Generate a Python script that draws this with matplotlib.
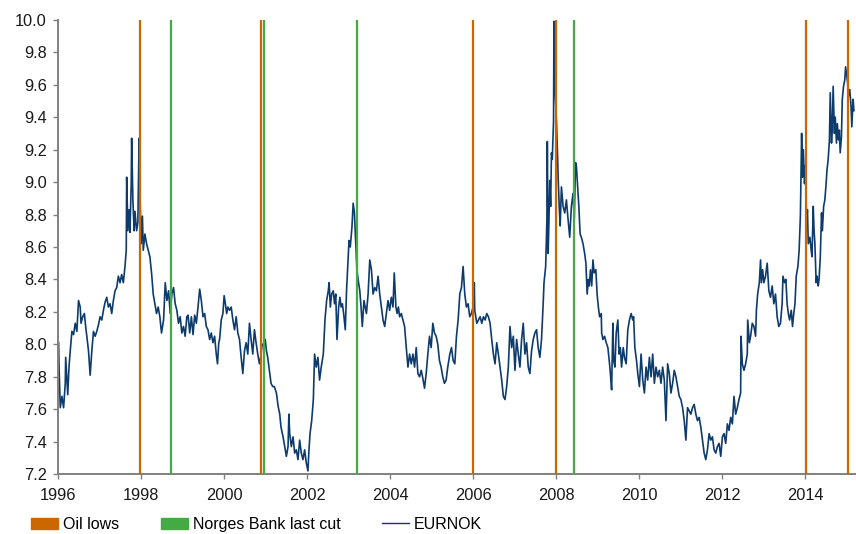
import matplotlib.pyplot as plt
from matplotlib.patches import Patch
from matplotlib.lines import Line2D

plt.rcParams['font.family'] = ['Liberation Sans', 'DejaVu Sans']

# EURNOK (decimal year, rate)
years = [
    1996.01, 1996.02, 1996.05, 1996.09, 1996.13, 1996.17, 1996.18, 1996.23, 1996.26, 1996.29,
    1996.33, 1996.37, 1996.41, 1996.45, 1996.49, 1996.53, 1996.55, 1996.59, 1996.63, 1996.67,
    1996.69, 1996.73, 1996.77, 1996.81, 1996.85, 1996.89, 1996.93, 1996.97, 1997.01, 1997.05,
    1997.09, 1997.13, 1997.17, 1997.21, 1997.25, 1997.29, 1997.33, 1997.37, 1997.41, 1997.45,
    1997.49, 1997.53, 1997.57, 1997.61, 1997.64, 1997.65, 1997.68, 1997.71, 1997.73, 1997.76,
    1997.77, 1997.80, 1997.83, 1997.85, 1997.89, 1997.92, 1997.95, 1997.97, 1998.00, 1998.03,
    1998.05, 1998.09, 1998.13, 1998.17, 1998.21, 1998.25, 1998.29, 1998.33, 1998.37, 1998.41,
    1998.45, 1998.49, 1998.54, 1998.58, 1998.62, 1998.66, 1998.70, 1998.74, 1998.78, 1998.82,
    1998.86, 1998.90, 1998.94, 1998.98, 1999.02, 1999.06, 1999.10, 1999.13,
    1999.17, 1999.21, 1999.25, 1999.29, 1999.33, 1999.37, 1999.41, 1999.45, 1999.49, 1999.53,
    1999.57, 1999.61, 1999.65, 1999.69, 1999.73, 1999.77, 1999.81, 1999.84, 1999.87, 1999.89,
    1999.93, 1999.97, 2000.00, 2000.03, 2000.06, 2000.09, 2000.13, 2000.17, 2000.21, 2000.25,
    2000.29, 2000.33, 2000.37, 2000.41, 2000.45, 2000.49, 2000.53, 2000.57, 2000.61, 2000.65,
    2000.69, 2000.73, 2000.77, 2000.81, 2000.85, 2000.88, 2000.91, 2000.96, 2000.99, 2001.02,
    2001.05, 2001.09, 2001.13, 2001.17, 2001.21, 2001.26, 2001.30, 2001.34, 2001.37, 2001.42,
    2001.46, 2001.50, 2001.54, 2001.56, 2001.58, 2001.62, 2001.66, 2001.70, 2001.74, 2001.78,
    2001.82, 2001.86, 2001.90, 2001.94, 2001.98, 2002.02, 2002.04, 2002.07, 2002.11, 2002.15,
    2002.18, 2002.22, 2002.26, 2002.30, 2002.34,
    2002.39, 2002.43, 2002.47, 2002.51, 2002.53, 2002.56, 2002.59, 2002.63, 2002.66, 2002.69,
    2002.72, 2002.76, 2002.79, 2002.82, 2002.85, 2002.88, 2002.92, 2002.95, 2002.98, 2003.01,
    2003.04, 2003.08, 2003.11, 2003.14, 2003.17, 2003.20, 2003.24, 2003.27, 2003.30, 2003.33,
    2003.37, 2003.40, 2003.43, 2003.47, 2003.51, 2003.55, 2003.59, 2003.63, 2003.67, 2003.71,
    2003.75, 2003.79, 2003.83, 2003.87, 2003.91, 2003.95, 2003.99, 2004.03, 2004.07, 2004.10,
    2004.14, 2004.17, 2004.20, 2004.23, 2004.27, 2004.31, 2004.35, 2004.39, 2004.43, 2004.47,
    2004.51, 2004.55, 2004.59, 2004.63, 2004.67, 2004.71, 2004.75, 2004.79, 2004.83, 2004.87,
    2004.91, 2004.95, 2004.99, 2005.03, 2005.07, 2005.11, 2005.15, 2005.19, 2005.23, 2005.27,
    2005.31, 2005.35, 2005.39, 2005.44, 2005.48, 2005.52,
    2005.56, 2005.60, 2005.64, 2005.68, 2005.72, 2005.76, 2005.80, 2005.84, 2005.88, 2005.92,
    2005.96, 2006.00, 2006.03, 2006.04, 2006.09, 2006.13, 2006.17, 2006.21, 2006.25, 2006.29,
    2006.33, 2006.37, 2006.41, 2006.45, 2006.49, 2006.53, 2006.57, 2006.61, 2006.65, 2006.69,
    2006.73, 2006.77, 2006.81, 2006.85, 2006.89, 2006.93, 2006.97, 2007.01, 2007.05, 2007.09,
    2007.13, 2007.17, 2007.21, 2007.25, 2007.29, 2007.33, 2007.37, 2007.41, 2007.45, 2007.49,
    2007.53, 2007.57, 2007.61, 2007.65, 2007.69, 2007.71, 2007.75, 2007.78, 2007.79, 2007.81,
    2007.83, 2007.85, 2007.87, 2007.89, 2007.91, 2007.94, 2007.95, 2007.97, 2007.99, 2008.01,
    2008.04, 2008.05, 2008.08, 2008.10, 2008.13, 2008.17, 2008.21, 2008.25, 2008.29, 2008.33,
    2008.37, 2008.41, 2008.44, 2008.47, 2008.49, 2008.52, 2008.55, 2008.58, 2008.61, 2008.65,
    2008.69,
    2008.72, 2008.75, 2008.78, 2008.80, 2008.83, 2008.86, 2008.89, 2008.92, 2008.96, 2008.99,
    2009.02, 2009.05, 2009.09, 2009.10, 2009.13, 2009.17, 2009.21, 2009.25, 2009.29, 2009.31,
    2009.34, 2009.37, 2009.39, 2009.42, 2009.45, 2009.49, 2009.52, 2009.55, 2009.58, 2009.62,
    2009.65, 2009.69, 2009.73, 2009.77, 2009.81, 2009.85, 2009.87, 2009.90, 2009.94, 2009.97,
    2010.01, 2010.05, 2010.09, 2010.13, 2010.17, 2010.21, 2010.25, 2010.29, 2010.33, 2010.37,
    2010.41, 2010.45, 2010.49, 2010.53, 2010.57, 2010.61, 2010.65, 2010.69, 2010.73, 2010.77,
    2010.81, 2010.85, 2010.89, 2010.93, 2010.97, 2011.01, 2011.05, 2011.09, 2011.13, 2011.17,
    2011.21, 2011.25, 2011.29, 2011.33, 2011.37, 2011.41, 2011.45, 2011.49, 2011.53, 2011.57,
    2011.61, 2011.65, 2011.69, 2011.73, 2011.77, 2011.81, 2011.85, 2011.89,
    2011.93, 2011.97, 2012.01, 2012.05, 2012.09, 2012.13, 2012.17, 2012.21, 2012.25, 2012.29,
    2012.33, 2012.37, 2012.41, 2012.45, 2012.46, 2012.49, 2012.53, 2012.57, 2012.61, 2012.62,
    2012.66, 2012.69, 2012.73, 2012.77, 2012.81, 2012.83, 2012.86, 2012.90, 2012.93, 2012.95,
    2012.98, 2013.01, 2013.05, 2013.09, 2013.13, 2013.17, 2013.21, 2013.25, 2013.29, 2013.33,
    2013.37, 2013.41, 2013.45, 2013.47, 2013.51, 2013.54, 2013.57, 2013.60, 2013.63, 2013.67,
    2013.70, 2013.73, 2013.76, 2013.79, 2013.83, 2013.86, 2013.89, 2013.92, 2013.94, 2013.96,
    2013.99, 2014.01, 2014.04, 2014.06, 2014.08, 2014.12, 2014.15, 2014.17, 2014.20, 2014.22,
    2014.24, 2014.27, 2014.29, 2014.32, 2014.34, 2014.37, 2014.40, 2014.42, 2014.45, 2014.48,
    2014.51, 2014.53, 2014.56, 2014.59, 2014.61, 2014.64, 2014.66, 2014.68, 2014.71, 2014.73,
    2014.76, 2014.78, 2014.81, 2014.83, 2014.85, 2014.88, 2014.90, 2014.93, 2014.96, 2014.98,
    2015.01, 2015.03, 2015.05, 2015.08, 2015.11, 2015.13, 2015.16, 2015.18,
]
eurnok = [
    8.01, 7.86, 7.61, 7.68, 7.61, 7.76, 7.92, 7.69, 7.86, 7.96,
    8.08, 8.06, 8.13, 8.08, 8.27, 8.23, 8.13, 8.17, 8.19, 8.09,
    8.05, 7.96, 7.81, 7.96, 8.08, 8.05, 8.08, 8.12, 8.17, 8.15,
    8.21, 8.26, 8.29, 8.23, 8.25, 8.19, 8.27, 8.33, 8.35, 8.42,
    8.38, 8.43, 8.38, 8.48, 8.58, 9.03, 8.70, 8.83, 8.69, 8.99,
    9.27, 8.89, 8.70, 8.82, 8.70, 8.75, 9.27, 8.95, 8.62, 8.79,
    8.58, 8.68, 8.62, 8.58, 8.54, 8.44, 8.31, 8.25, 8.19, 8.23,
    8.17, 8.07, 8.15, 8.38, 8.27, 8.33, 8.19, 8.31, 8.35, 8.25,
    8.21, 8.13, 8.17, 8.07, 8.11, 8.05, 8.17, 8.18,
    8.07, 8.17, 8.06, 8.18, 8.13, 8.23, 8.34, 8.27, 8.17, 8.19,
    8.11, 8.09, 8.03, 8.07, 8.01, 8.05, 7.94, 7.88, 8.01, 8.03,
    8.15, 8.19, 8.30, 8.25, 8.19, 8.23, 8.21, 8.23, 8.15, 8.09,
    8.17, 8.07, 8.03, 7.92, 7.82, 7.96, 8.01, 7.94, 8.13, 8.03,
    7.94, 8.09, 8.01, 7.94, 7.88, 7.92, 7.99, 8.01, 8.03, 7.96,
    7.92, 7.84, 7.76, 7.74, 7.74, 7.70, 7.62, 7.57, 7.49, 7.43,
    7.37, 7.31, 7.37, 7.57, 7.45, 7.37, 7.43, 7.33, 7.35, 7.29,
    7.41, 7.33, 7.29, 7.35, 7.27, 7.22, 7.33, 7.45, 7.53, 7.66,
    7.94, 7.86, 7.92, 7.78, 7.86,
    7.94, 8.15, 8.27, 8.33, 8.38, 8.23, 8.31, 8.33, 8.25, 8.31,
    8.03, 8.23, 8.29, 8.23, 8.25, 8.19, 8.09, 8.33, 8.48, 8.64,
    8.60, 8.72, 8.87, 8.81, 8.64, 8.46, 8.38, 8.33, 8.23, 8.11,
    8.27, 8.23, 8.19, 8.31, 8.52, 8.46, 8.31, 8.35, 8.33, 8.42,
    8.31, 8.23, 8.15, 8.11, 8.19, 8.27, 8.21, 8.29, 8.23, 8.44,
    8.23, 8.19, 8.23, 8.17, 8.19, 8.15, 8.11, 7.98, 7.86, 7.94,
    7.88, 7.94, 7.86, 7.98, 7.82, 7.80, 7.84, 7.79, 7.73, 7.82,
    7.94, 8.05, 7.98, 8.13, 8.07, 8.05, 8.00, 7.90, 7.86, 7.80,
    7.76, 7.78, 7.86, 7.94, 7.98, 7.90,
    7.88, 8.05, 8.15, 8.31, 8.35, 8.48, 8.31, 8.23, 8.25, 8.17,
    8.19, 8.23, 8.38, 8.21, 8.13, 8.15, 8.17, 8.13, 8.17, 8.15,
    8.19, 8.17, 8.13, 8.03, 7.94, 7.88, 8.01, 7.94, 7.86, 7.78,
    7.68, 7.66, 7.74, 7.86, 8.11, 7.98, 8.05, 7.84, 8.03, 7.94,
    7.86, 8.03, 8.13, 7.94, 8.01, 7.86, 7.82, 7.96, 8.03, 8.07,
    8.09, 7.98, 7.92, 8.03, 8.25, 8.38, 8.48, 8.77, 9.25, 8.56,
    8.77, 9.01, 8.85, 9.18, 9.14, 9.38, 9.99, 9.63, 9.49, 9.38,
    9.14, 9.03, 8.83, 8.73, 8.97, 8.85, 8.81, 8.89, 8.77, 8.66,
    8.85, 8.93, 8.77, 9.12, 9.10, 8.97, 8.85, 8.68, 8.66, 8.62,
    8.56,
    8.50, 8.31, 8.40, 8.36, 8.46, 8.36, 8.52, 8.44, 8.46, 8.31,
    8.23, 8.17, 8.19, 8.07, 8.03, 8.05, 8.01, 7.98, 7.88, 7.82,
    7.72, 8.13, 7.90, 7.86, 8.07, 8.15, 7.94, 7.98, 7.86, 7.98,
    7.92, 7.88, 8.09, 8.15, 8.19, 8.15, 8.17, 7.98, 7.90, 7.82,
    7.74, 7.94, 7.78, 7.70, 7.86, 7.78, 7.92, 7.80, 7.94, 7.76,
    7.86, 7.80, 7.84, 7.76, 7.86, 7.78, 7.53, 7.88, 7.82, 7.70,
    7.76, 7.84, 7.80, 7.74, 7.68, 7.66, 7.61, 7.53, 7.41, 7.61,
    7.59, 7.57, 7.61, 7.63, 7.57, 7.53, 7.55, 7.49, 7.41, 7.33,
    7.29, 7.35, 7.45, 7.41, 7.43, 7.35, 7.33, 7.37,
    7.39, 7.31, 7.43, 7.45, 7.39, 7.51, 7.47, 7.55, 7.51, 7.68,
    7.57, 7.61, 7.66, 7.70, 8.05, 7.88, 7.84, 7.88, 7.94, 8.15,
    8.01, 8.05, 8.13, 8.11, 8.05, 8.21, 8.31, 8.38, 8.52, 8.38,
    8.46, 8.38, 8.42, 8.50, 8.33, 8.29, 8.36, 8.25, 8.31, 8.17,
    8.11, 8.13, 8.25, 8.42, 8.38, 8.40, 8.25, 8.19, 8.15, 8.21,
    8.11, 8.19, 8.25, 8.42, 8.48, 8.58, 8.79, 9.30, 9.03, 9.20,
    8.99, 9.10, 8.75, 8.83, 8.62, 8.66, 8.58, 8.54, 8.85, 8.70,
    8.62, 8.38, 8.42, 8.36, 8.40, 8.54, 8.81, 8.70, 8.85, 8.89,
    8.99, 9.07, 9.14, 9.26, 9.55, 9.24, 9.34, 9.59, 9.30, 9.40,
    9.24, 9.36, 9.26, 9.32, 9.18, 9.28, 9.51, 9.59, 9.63, 9.71,
    9.65, 9.61, 9.53, 9.57, 9.47, 9.34, 9.51, 9.44,
]

oil_lows = [1997.97, 2000.89, 2006.01, 2007.99, 2014.03, 2015.04]
nb_last_cut = [1998.72, 2000.96, 2003.20, 2008.44]
year_ticks = [1996, 1998, 2000, 2002, 2004, 2006, 2008, 2010, 2012, 2014]

orange = '#CC6600'
green = '#44AA44'
navy = '#0E3B6E'

fig = plt.figure(figsize=(8.56, 5.34), dpi=100)
ax = fig.add_axes([0.068, 0.112, 0.931, 0.851])

ax.plot(years, eurnok, color=navy, linewidth=1.2, zorder=2)
for x in oil_lows:
    ax.axvline(x, color=orange, linewidth=1.6, zorder=3)
for x in nb_last_cut:
    ax.axvline(x, color=green, linewidth=1.6, zorder=3)

ax.set_xlim(1996, 2015.21)
ax.set_ylim(7.2, 10.0)
ax.set_xticks(year_ticks)
ax.set_xticklabels([str(y) for y in year_ticks])
ax.set_yticks([7.2 + 0.2 * i for i in range(15)])
ax.set_yticklabels(['%.1f' % (7.2 + 0.2 * i) for i in range(15)])

for s in ['top', 'right']:
    ax.spines[s].set_visible(False)
for s in ['left', 'bottom']:
    ax.spines[s].set_color('#808080')
    ax.spines[s].set_linewidth(1.4)
ax.tick_params(axis='both', colors='#808080', labelcolor='#1a1a1a',
               labelsize=11.8, length=3.6, width=1.0, direction='out')
ax.tick_params(axis='x', pad=6.5)
ax.tick_params(axis='y', pad=4.5)

handles = [Patch(color=orange), Patch(color=green), Line2D([], [], color=navy, linewidth=1.0)]
labels = ['Oil lows', 'Norges Bank last cut', 'EURNOK']
fig.legend(handles, labels, loc='center left', bbox_to_anchor=(31 / 856, 9.5 / 534), ncol=3,
           frameon=False, fontsize=11.5, handlelength=1.7, handleheight=0.7,
           handletextpad=0.3, columnspacing=2.6, borderpad=0, borderaxespad=0)

plt.savefig('out.png', dpi=100)
